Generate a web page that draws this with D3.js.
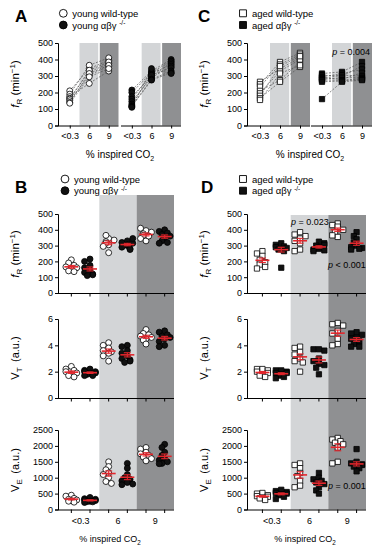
<!DOCTYPE html>
<html>
<head>
<meta charset="utf-8">
<script src="https://cdn.jsdelivr.net/npm/d3@7"></script>
<style>
  body { margin: 0; background: #fff; }
  text { font-family: "Liberation Sans", Arial, sans-serif; }
</style>
</head>
<body>
<svg id="fig" width="377" height="550"></svg>
<script>
const svg = d3.select("#fig");

// ---------- DATA ----------
const co2Levels = ["<0.3", "6", "9"];
const frTicks = [0, 100, 200, 300, 400, 500];
const vtTicks = [0, 2, 4, 6];
const veTicks = [0, 500, 1000, 1500, 2000, 2500];

// one array per CO2 level, one value per mouse (same order across levels)
const youngWtFR = [
  [210, 190, 175, 165, 160, 150, 140, 135],
  [345, 365, 255, 325, 335, 305, 315, 295],
  [395, 410, 330, 375, 385, 360, 365, 345]
];
const youngKoFR = [
  [215, 200, 175, 160, 145, 130, 120, 115, 110],
  [330, 320, 300, 315, 290, 305, 280, 275, 345],
  [400, 390, 380, 370, 360, 350, 330, 320, 315]
];
const agedWtFR = [
  [265, 250, 235, 210, 195, 180, 165, 155],
  [345, 385, 370, 275, 330, 360, 265, 315],
  [410, 440, 430, 385, 400, 420, 355, 365]
];
const agedKoFR = [
  [315, 305, 295, 290, 285, 280, 275, 265, 160],
  [325, 300, 315, 280, 305, 290, 275, 270, 265],
  [385, 360, 340, 320, 300, 290, 285, 280, 275]
];

const youngWtVT = [
  [2.4, 2.2, 2.1, 2.0, 1.9, 1.8, 1.7, 1.6],
  [4.2, 4.0, 3.8, 3.6, 3.5, 3.4, 3.2, 2.8],
  [5.2, 4.9, 4.8, 4.7, 4.6, 4.5, 4.4, 4.1]
];
const youngKoVT = [
  [2.2, 2.1, 2.0, 2.0, 1.9, 1.9, 1.8, 1.7, 1.7],
  [4.0, 3.9, 3.6, 3.4, 3.2, 3.0, 2.9, 2.8, 2.7],
  [5.1, 5.0, 4.8, 4.7, 4.6, 4.5, 4.3, 4.0, 3.9]
];
const agedWtVT = [
  [2.2, 2.2, 2.1, 2.0, 1.9, 1.8, 1.7, 1.6],
  [3.9, 3.8, 3.5, 3.3, 3.0, 2.8, 2.7, 2.0],
  [5.7, 5.6, 5.5, 5.1, 4.9, 4.5, 4.1, 4.0]
];
const agedKoVT = [
  [2.1, 2.1, 2.0, 1.9, 1.9, 1.8, 1.7, 1.6, 1.5],
  [3.7, 3.7, 3.6, 3.0, 2.8, 2.6, 2.5, 2.3, 1.8],
  [5.0, 4.9, 4.8, 4.6, 4.5, 4.3, 4.1, 3.9, 3.9]
];

const youngWtVE = [
  [450, 420, 350, 320, 300, 280, 260, 230],
  [1500, 1350, 1250, 1150, 1100, 1000, 880, 820],
  [1950, 1900, 1800, 1750, 1700, 1650, 1600, 1530]
];
const youngKoVE = [
  [380, 340, 320, 300, 280, 260, 250, 240, 220],
  [1450, 1300, 1100, 1000, 950, 900, 850, 800, 780],
  [2050, 1950, 1800, 1700, 1600, 1550, 1500, 1450, 1440]
];
const agedWtVE = [
  [520, 500, 450, 420, 400, 380, 350, 300],
  [1450, 1400, 1300, 1150, 1050, 900, 750, 700],
  [2250, 2200, 2150, 2100, 2050, 1950, 1500, 1450]
];
const agedKoVE = [
  [620, 580, 550, 520, 500, 480, 450, 400, 330],
  [1150, 1000, 950, 900, 850, 800, 700, 600, 500],
  [1900, 1500, 1450, 1420, 1400, 1380, 1350, 1300, 1200]
];

// ---------- STYLE ----------
const LIGHT = "#d3d5d7";
const DARK = "#8f9092";
const RED = "#e3262c";
const FONT = "'Liberation Sans', Arial, sans-serif";

const circleSym = d3.symbol().type(d3.symbolCircle).size(28);
const squareSym = d3.symbol().type(d3.symbolSquare).size(28);

function styleAxis(ax) {
  ax.attr("font-size", 9).attr("font-family", FONT);
  ax.selectAll("text").attr("fill", "#000");
  ax.selectAll("line, path").attr("stroke", "#000");
}

// ---------- TEXT HELPERS ----------
function frLabel(cx, cy) {
  const t = svg.append("text")
    .attr("transform", `translate(${cx},${cy}) rotate(-90)`)
    .attr("text-anchor", "middle").attr("font-size", 11.5);
  t.append("tspan").attr("font-style", "italic").text("f");
  t.append("tspan").attr("font-size", 8).attr("dy", 3).text("R");
  t.append("tspan").attr("dy", -3).text(" (min");
  t.append("tspan").attr("font-size", 8).attr("dy", -4.5).text("\u22121");
  t.append("tspan").attr("dy", 4.5).text(")");
}

function vLabel(cx, cy, sub) {
  const t = svg.append("text")
    .attr("transform", `translate(${cx},${cy}) rotate(-90)`)
    .attr("text-anchor", "middle").attr("font-size", 11);
  t.append("tspan").text("V");
  t.append("tspan").attr("font-size", 8).attr("dy", 3).text(sub);
  t.append("tspan").attr("dy", -3).text("\u2002(a.u.)");
}

function co2Label(cx, y, size) {
  const t = svg.append("text").attr("x", cx).attr("y", y)
    .attr("text-anchor", "middle").attr("font-size", size);
  t.append("tspan").text("% inspired CO");
  t.append("tspan").attr("font-size", size * 0.7).attr("dy", 2.5).text("2");
}

function pText(x, y, rest, anchor) {
  const t = svg.append("text").attr("x", x).attr("y", y)
    .attr("font-size", 9).attr("text-anchor", anchor || "start");
  t.append("tspan").attr("font-style", "italic").text("p");
  t.append("tspan").text(rest);
}

function letter(x, y, s) {
  svg.append("text").attr("x", x).attr("y", y)
    .attr("font-size", 17).attr("font-weight", "bold").text(s);
}

function legend(sx, sy, square, group) {
  const sym = d3.symbol().type(square ? d3.symbolSquare : d3.symbolCircle).size(square ? 48 : 48);
  [["#fff", "wild-type"], ["#111", null]].forEach(([fill, lbl], i) => {
    const yy = sy + i * 11.7;
    svg.append("path").attr("d", sym).attr("transform", `translate(${sx},${yy})`)
      .attr("fill", fill).attr("stroke", "#000").attr("stroke-width", 0.9);
    const t = svg.append("text").attr("x", sx + 9).attr("y", yy + 3.5).attr("font-size", 9.5);
    if (lbl) {
      t.text(`${group} ${lbl}`);
    } else {
      t.append("tspan").text(`${group} \u03b1\u03b2\u03b3 `);
      t.append("tspan").attr("font-size", 6.5).attr("dy", -3.5).text("-/-");
    }
  });
}

// ---------- PAIRED PANELS (A, C) ----------
function pairedPanel(ox, ranges, wtData, koData, sym) {
  const y = d3.scaleLinear().domain([0, 500]).range([125.5, 43]);
  const g = svg.append("g").attr("transform", `translate(${ox},0)`);

  const subs = [
    { range: ranges[0], data: wtData, fill: "#fff", x0: 0 },
    { range: ranges[1], data: koData, fill: "#111", x0: ranges[1][0] - 1 }
  ];

  subs.forEach(s => {
    const x = d3.scalePoint().domain(co2Levels).range(s.range).padding(0.5);
    const st = x.step();

    g.append("rect").attr("x", x("6") - st / 2).attr("width", st - 0.8)
      .attr("y", y(500)).attr("height", y(0) - y(500)).attr("fill", LIGHT);
    g.append("rect").attr("x", x("9") - st / 2 + 0.8).attr("width", st - 0.8)
      .attr("y", y(500)).attr("height", y(0) - y(500)).attr("fill", DARK);

    const line = d3.line().x((d, i) => x(co2Levels[i])).y(d => y(d));
    d3.range(s.data[0].length).forEach(i => {
      g.append("path").attr("d", line(s.data.map(lv => lv[i])))
        .attr("fill", "none").attr("stroke", "#555").attr("stroke-width", 0.7)
        .attr("stroke-dasharray", "2,1.5");
    });

    s.data.forEach((vals, li) => {
      g.append("g").selectAll("path").data(vals).join("path")
        .attr("d", sym)
        .attr("transform", d => `translate(${x(co2Levels[li])},${y(d)})`)
        .attr("fill", s.fill).attr("stroke", "#000").attr("stroke-width", 0.8);
    });

    const ax = g.append("g").attr("transform", `translate(0,${y(0)})`)
      .call(d3.axisBottom(x).tickSize(3).tickPadding(4));
    ax.select(".domain").attr("d", `M${s.x0},0.5H${s.range[1]}`);
    styleAxis(ax);
  });

  const ay = g.append("g").call(d3.axisLeft(y).tickValues(frTicks)
    .tickFormat(d3.format("d")).tickSize(3).tickPadding(2));
  styleAxis(ay);
}

// ---------- SCATTER COLUMNS (B, D) ----------
const rows = [
  { domain: [0, 500], range: [293, 214], ticks: frTicks },
  { domain: [0, 6], range: [398, 319], ticks: vtTicks },
  { domain: [0, 2500], range: [509.5, 430], ticks: veTicks }
];

// place points side by side where they would overlap
function swarm(values, y, r) {
  const placed = [];
  const cands = [0, -1, 1, -2, 2].map(k => k * r * 0.85);
  return values.map(v => {
    const py = y(v);
    let dx = cands.find(c => placed.every(p => Math.hypot(p.dx - c, p.py - py) >= r * 1.3));
    if (dx === undefined) dx = cands[placed.length % cands.length];
    placed.push({ dx, py });
    return { v, dx, py };
  });
}

function scatterColumn(ox, bandRange, bandTop, sets, sym) {
  const g = svg.append("g").attr("transform", `translate(${ox},0)`);
  const cat = d3.scaleBand().domain(co2Levels).range(bandRange);
  const bw = cat.bandwidth();
  const gx = (lvl, gi) => cat(lvl) + bw * (gi === 0 ? 0.25 : 0.75);
  const bottom = rows[2].range[0];

  g.append("rect").attr("x", cat("6")).attr("width", bw)
    .attr("y", bandTop).attr("height", bottom - bandTop).attr("fill", LIGHT);
  g.append("rect").attr("x", cat("9")).attr("width", bw)
    .attr("y", bandTop).attr("height", bottom - bandTop).attr("fill", DARK);

  const tickXs = co2Levels.flatMap(l => [gx(l, 0), gx(l, 1)]);

  rows.forEach((row, ri) => {
    const y = d3.scaleLinear().domain(row.domain).range(row.range);
    const [wt, ko] = sets[ri];

    [wt, ko].forEach((groupData, gi) => {
      groupData.forEach((vals, li) => {
        const cx = gx(co2Levels[li], gi);
        g.append("g").selectAll("path").data(swarm(vals, y, 3.2)).join("path")
          .attr("d", sym)
          .attr("transform", d => `translate(${cx + d.dx},${d.py})`)
          .attr("fill", gi === 0 ? "#fff" : "#111")
          .attr("stroke", "#000").attr("stroke-width", 0.8);

        const m = d3.mean(vals);
        const sem = d3.deviation(vals) / Math.sqrt(vals.length);
        const red = g.append("g").attr("stroke", RED).attr("fill", "none");
        red.append("line").attr("x1", cx - 7).attr("x2", cx + 7)
          .attr("y1", y(m)).attr("y2", y(m)).attr("stroke-width", 1.6);
        red.append("line").attr("x1", cx).attr("x2", cx)
          .attr("y1", y(m - sem)).attr("y2", y(m + sem)).attr("stroke-width", 1.1);
        [m - sem, m + sem].forEach(v => red.append("line")
          .attr("x1", cx - 3.5).attr("x2", cx + 3.5)
          .attr("y1", y(v)).attr("y2", y(v)).attr("stroke-width", 1.1));
      });
    });

    const ay = g.append("g").call(d3.axisLeft(y).tickValues(row.ticks)
      .tickFormat(d3.format("d")).tickSize(3).tickPadding(2));
    styleAxis(ay);

    const y0 = y(0);
    const ax = g.append("g").attr("stroke", "#000");
    ax.append("line").attr("x1", 0).attr("x2", bandRange[1])
      .attr("y1", y0 + 0.5).attr("y2", y0 + 0.5);
    ax.selectAll(".tk").data(tickXs).join("line")
      .attr("x1", d => d).attr("x2", d => d)
      .attr("y1", y0).attr("y2", y0 + 3.5);

    if (ri === 2) {
      g.append("g").selectAll("text").data(co2Levels).join("text")
        .attr("x", d => cat(d) + bw / 2).attr("y", y0 + 14)
        .attr("text-anchor", "middle").attr("font-size", 9).text(d => d);
    }
  });
}

// ---------- DRAW ----------
letter(15, 22, "A");
letter(198, 22, "C");
letter(15, 193, "B");
letter(201, 193, "D");

legend(63.3, 13.3, false, "young");
legend(243, 13.3, true, "aged");
legend(65, 179, false, "young");
legend(243, 179, true, "aged");

pairedPanel(58, [[2, 60.5], [64, 123]], youngWtFR, youngKoFR, circleSym);
pairedPanel(247, [[3, 63], [65, 125]], agedWtFR, agedKoFR, squareSym);

scatterColumn(58, [4, 116], 195,
  [[youngWtFR, youngKoFR], [youngWtVT, youngKoVT], [youngWtVE, youngKoVE]], circleSym);
scatterColumn(247, [6, 119], 215,
  [[agedWtFR, agedKoFR], [agedWtVT, agedKoVT], [agedWtVE, agedKoVE]], squareSym);

frLabel(19, 84);
frLabel(208, 84);
frLabel(19, 254);
frLabel(208, 254);
vLabel(19, 358, "T");
vLabel(208, 358, "T");
vLabel(19, 470, "E");
vLabel(208, 470, "E");

co2Label(120, 158, 10);
co2Label(310, 158, 10);
co2Label(110, 542, 9);
co2Label(305, 542, 9);

pText(370, 55, " = 0.004", "end");
pText(291, 224.5, " = 0.023");
pText(328, 268, " < 0.001");
pText(328, 488.5, " = 0.001");
</script>
</body>
</html>
